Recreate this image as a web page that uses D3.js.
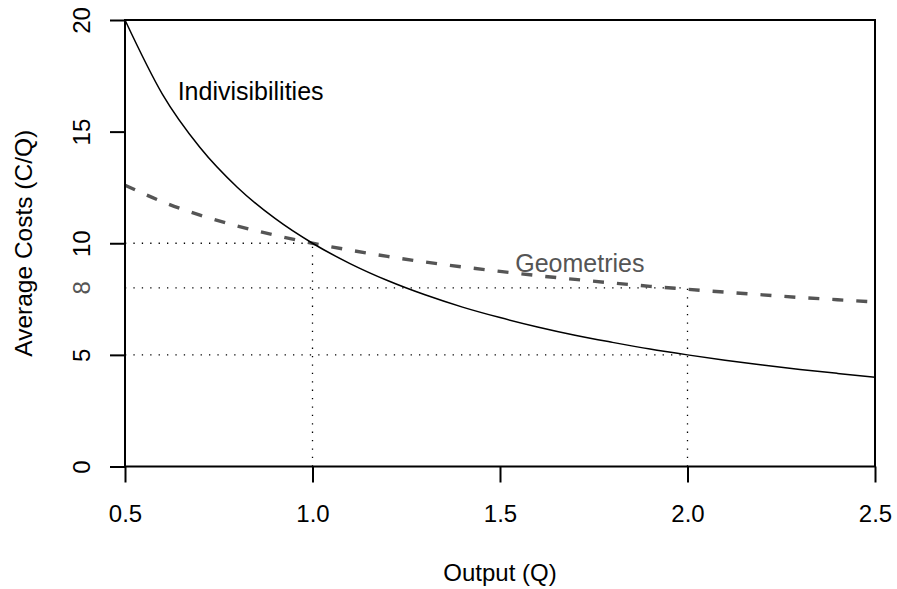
<!DOCTYPE html>
<html>
<head>
<meta charset="utf-8">
<script src="https://cdn.jsdelivr.net/npm/d3@7"></script>
<style>
  html, body { margin: 0; padding: 0; background: #fff; }
  svg { display: block; font-family: "Liberation Sans", Arial, Helvetica, sans-serif; }
</style>
</head>
<body>
<svg id="chart" width="897" height="589"></svg>
<script>
// ---- data ----
const output = [0.5, 0.6, 0.7, 0.8, 0.9, 1.0, 1.1, 1.2, 1.3, 1.4, 1.5, 1.6, 1.7, 1.8, 1.9, 2.0, 2.1, 2.2, 2.3, 2.4, 2.5];
const indivisibilities = [20, 16.67, 14.29, 12.5, 11.11, 10, 9.09, 8.33, 7.69, 7.14, 6.67, 6.25, 5.88, 5.56, 5.26, 5, 4.76, 4.55, 4.35, 4.17, 4];
const geometries = [12.6, 11.86, 11.26, 10.77, 10.36, 10, 9.69, 9.41, 9.16, 8.94, 8.74, 8.55, 8.38, 8.22, 8.07, 7.94, 7.81, 7.69, 7.57, 7.47, 7.37];
const xTicks = [0.5, 1.0, 1.5, 2.0, 2.5];
const yTicks = [0, 5, 10, 15, 20];
const yGreyTick = [8];
// reference guides: [Q, cost]
const guidePoints = [[1, 10], [2, 8], [2, 5]];

(function () {
const svg = d3.select("#chart");
const pLeft = 125, pRight = 875, pTop = 20, pBottom = 466.5;
const x = d3.scaleLinear().domain([0.5, 2.5]).range([pLeft, pRight]);
const y = d3.scaleLinear().domain([0, 20]).range([pBottom, pTop]);

const grey = "#555555";

// dotted guides
const guides = svg.append("g").attr("stroke", "#000").attr("stroke-width", 1.3)
  .attr("stroke-dasharray", "1.3,7.1").attr("fill", "none");
guidePoints.forEach(([q, c]) => {
  guides.append("line").attr("x1", x(0.5)).attr("x2", x(q)).attr("y1", y(c)).attr("y2", y(c));
});
[[1, 10], [2, 8]].forEach(([q, c]) => {
  guides.append("line").attr("x1", x(q)).attr("x2", x(q)).attr("y1", y(0)).attr("y2", y(c));
});

// curves
const line = (vals) => d3.line().x((d, i) => x(output[i])).y(d => y(d)).curve(d3.curveMonotoneX)(vals);
svg.append("path").attr("d", line(geometries)).attr("fill", "none")
  .attr("stroke", grey).attr("stroke-width", 3.4).attr("stroke-dasharray", "11,13");
svg.append("path").attr("d", line(indivisibilities)).attr("fill", "none")
  .attr("stroke", "#000").attr("stroke-width", 1.5);

// box
svg.append("rect").attr("x", pLeft).attr("y", pTop).attr("width", pRight - pLeft).attr("height", pBottom - pTop)
  .attr("fill", "none").attr("stroke", "#000").attr("stroke-width", 2);

// x axis
const xAxis = svg.append("g").attr("transform", `translate(0,${pBottom})`)
  .call(d3.axisBottom(x).tickValues(xTicks).tickFormat(d3.format(".1f")).tickSize(16).tickPadding(22));
xAxis.select(".domain").remove();
xAxis.selectAll(".tick line").attr("stroke", "#000").attr("stroke-width", 2);
xAxis.selectAll(".tick text").attr("font-size", 24).attr("font-family", "Liberation Sans, Arial, sans-serif")
  .attr("fill", "#000");

// y axis
const yAxis = svg.append("g").attr("transform", `translate(${pLeft},0)`)
  .call(d3.axisLeft(y).tickValues(yTicks).tickSize(15).tickFormat(d3.format("d")));
yAxis.select(".domain").remove();
yAxis.selectAll(".tick line").attr("stroke", "#000").attr("stroke-width", 2);
yAxis.selectAll(".tick text")
  .attr("font-size", 24).attr("font-family", "Liberation Sans, Arial, sans-serif").attr("fill", "#000")
  .attr("text-anchor", "middle").attr("dy", 0)
  .attr("x", 0).attr("y", 0)
  .attr("transform", `translate(${90 - pLeft},0) rotate(-90)`);

// grey 8 label (no tick)
svg.selectAll(".grey-lab").data(yGreyTick).enter().append("text")
  .attr("transform", d => `translate(90,${y(d)}) rotate(-90)`)
  .attr("text-anchor", "middle").attr("font-size", 24).attr("fill", grey).text(d => d);

// axis titles
svg.append("text").attr("x", (pLeft + pRight) / 2).attr("y", 581).attr("text-anchor", "middle")
  .attr("font-size", 24).attr("fill", "#000").text("Output (Q)");
svg.append("text").attr("transform", `translate(32,${(pTop + pBottom) / 2}) rotate(-90)`)
  .attr("text-anchor", "middle").attr("font-size", 24.5).attr("fill", "#000").text("Average Costs (C/Q)");

// curve labels
svg.append("text").attr("x", x(0.835)).attr("y", y(16.8)).attr("dy", "0.35em").attr("text-anchor", "middle")
  .attr("font-size", 25).attr("fill", "#000").text("Indivisibilities");
svg.append("text").attr("x", x(1.713)).attr("y", y(9.1)).attr("dy", "0.35em").attr("text-anchor", "middle")
  .attr("font-size", 25).attr("fill", grey).text("Geometries");
})();
</script>
</body>
</html>
